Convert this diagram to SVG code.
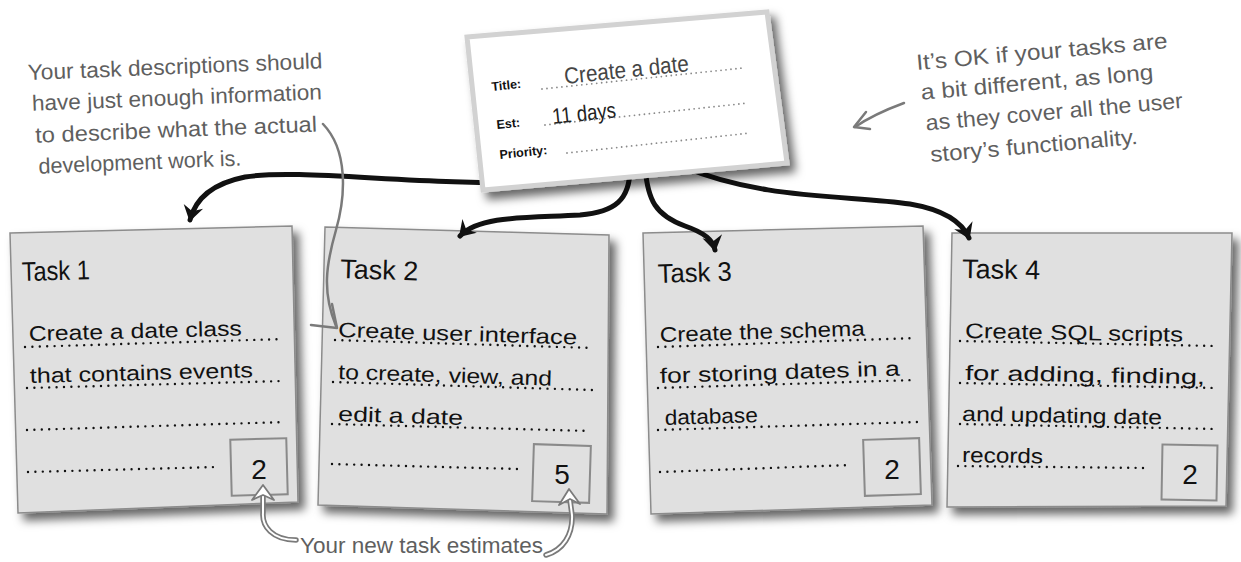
<svg xmlns="http://www.w3.org/2000/svg" width="1241" height="562" viewBox="0 0 1241 562">
<defs>
  <filter id="shadow" x="-10%" y="-10%" width="125%" height="130%">
    <feDropShadow dx="6" dy="7" stdDeviation="5" flood-color="#000" flood-opacity="0.6"/>
  </filter>
  <marker id="blackhead" viewBox="-16 -11 18 22" refX="0" refY="0" markerWidth="18" markerHeight="22" markerUnits="userSpaceOnUse" orient="auto">
    <path d="M1.5,0 L-14,-10 L-9,0 L-14,10 Z" fill="#111"/>
  </marker>
</defs>
<style>
  .hand { font-family: "Liberation Sans", "DejaVu Sans", sans-serif; }
  .note { fill: #5f5f5f; font-size: 22px; }
  .task-title { fill: #111; font-size: 27px; }
  .task-text { fill: #111; font-size: 21px; }
  .num { fill: #111; font-size: 28px; text-anchor: middle; }
  .card { fill: #e0e0e0; stroke: #8c8c8c; stroke-width: 1.5; }
  .box { fill: none; stroke: #8a8a8a; stroke-width: 2; }
  .dots { stroke: #111; stroke-width: 2.4; stroke-linecap: round; stroke-dasharray: 0 7.4; fill: none; }
  .sdots { stroke: #8a8a8a; stroke-width: 1.8; stroke-linecap: round; stroke-dasharray: 0 5; fill: none; }
  .label { font-family: "Liberation Sans", sans-serif; font-weight: bold; font-size: 12.5px; fill: #111; }
  .conn { fill: none; stroke: #111; stroke-width: 5; stroke-linecap: round; }
  .gray { fill: none; stroke: #7a7a7a; stroke-width: 2.5; stroke-linecap: round; stroke-linejoin: round; }
</style>
<rect width="1241" height="562" fill="#ffffff"/>

<g id="task1">
  <polygon class="card" points="10,233 292,226 298,502 18,513" filter="url(#shadow)"/>
  <text class="hand task-title" x="22" y="281" textLength="68" lengthAdjust="spacingAndGlyphs" transform="rotate(-1.5 22 281)">Task 1</text>
  <text class="hand task-text" x="29" y="341" textLength="213" lengthAdjust="spacingAndGlyphs" transform="rotate(-1.5 29 341)">Create a date class</text>
  <line class="dots" x1="25" y1="347" x2="283" y2="339"/>
  <text class="hand task-text" x="30" y="383" textLength="223" lengthAdjust="spacingAndGlyphs" transform="rotate(-1.5 30 383)">that contains events</text>
  <line class="dots" x1="27" y1="388" x2="283" y2="381"/>
  <line class="dots" x1="27" y1="430" x2="285" y2="422"/>
  <line class="dots" x1="28" y1="472" x2="217" y2="467"/>
  <rect class="box" x="231" y="439" width="56" height="56" transform="rotate(-1.5 259 467)"/>
  <text class="hand num" x="259" y="479">2</text>
</g>

<g id="task2">
  <polygon class="card" points="325,227 609,235 607,514 318,505" filter="url(#shadow)"/>
  <text class="hand task-title" x="340" y="278" textLength="78" lengthAdjust="spacingAndGlyphs" transform="rotate(1.8 340 278)">Task 2</text>
  <text class="hand task-text" x="338" y="337" textLength="239" lengthAdjust="spacingAndGlyphs" transform="rotate(1.8 338 337)">Create user interface</text>
  <line class="dots" x1="335" y1="340" x2="593" y2="348"/>
  <text class="hand task-text" x="338" y="379" textLength="214" lengthAdjust="spacingAndGlyphs" transform="rotate(1.8 338 379)">to create, view, and</text>
  <line class="dots" x1="333" y1="382" x2="592" y2="390"/>
  <text class="hand task-text" x="338" y="421" textLength="125" lengthAdjust="spacingAndGlyphs" transform="rotate(1.8 338 421)">edit a date</text>
  <line class="dots" x1="332" y1="424" x2="590" y2="431"/>
  <line class="dots" x1="332" y1="464" x2="518" y2="469"/>
  <rect class="box" x="533" y="445" width="57" height="57" transform="rotate(1.8 561 473)"/>
  <text class="hand num" x="562" y="484">5</text>
</g>

<g id="task3">
  <polygon class="card" points="643,233 923,226 932,505 651,514" filter="url(#shadow)"/>
  <text class="hand task-title" x="658" y="283" textLength="74" lengthAdjust="spacingAndGlyphs" transform="rotate(-1.8 658 283)">Task 3</text>
  <text class="hand task-text" x="660" y="342" textLength="205" lengthAdjust="spacingAndGlyphs" transform="rotate(-1.8 660 342)">Create the schema</text>
  <line class="dots" x1="658" y1="347" x2="915" y2="338"/>
  <text class="hand task-text" x="660" y="383" textLength="240" lengthAdjust="spacingAndGlyphs" transform="rotate(-1.8 660 383)">for storing dates in a</text>
  <line class="dots" x1="658" y1="388" x2="915" y2="380"/>
  <text class="hand task-text" x="665" y="425" textLength="93" lengthAdjust="spacingAndGlyphs" transform="rotate(-1.8 665 425)">database</text>
  <line class="dots" x1="658" y1="430" x2="917" y2="422"/>
  <line class="dots" x1="660" y1="472" x2="850" y2="465"/>
  <rect class="box" x="864" y="439" width="56" height="56" transform="rotate(-1.8 892 467)"/>
  <text class="hand num" x="892" y="479">2</text>
</g>

<g id="task4">
  <polygon class="card" points="952,233 1232,233 1226,506 947,507" filter="url(#shadow)"/>
  <text class="hand task-title" x="962" y="278" textLength="78" lengthAdjust="spacingAndGlyphs" transform="rotate(1 962 278)">Task 4</text>
  <text class="hand task-text" x="965" y="338" textLength="218" lengthAdjust="spacingAndGlyphs" transform="rotate(1 965 338)">Create SQL scripts</text>
  <line class="dots" x1="960" y1="341" x2="1218" y2="346"/>
  <text class="hand task-text" x="965" y="380" textLength="240" lengthAdjust="spacingAndGlyphs" transform="rotate(1 965 380)">for adding, finding,</text>
  <line class="dots" x1="960" y1="383" x2="1218" y2="388"/>
  <text class="hand task-text" x="962" y="421" textLength="200" lengthAdjust="spacingAndGlyphs" transform="rotate(1 962 421)">and updating date</text>
  <line class="dots" x1="960" y1="424" x2="1218" y2="429"/>
  <text class="hand task-text" x="962" y="462" textLength="81" lengthAdjust="spacingAndGlyphs" transform="rotate(1 962 462)">records</text>
  <line class="dots" x1="958" y1="466" x2="1148" y2="468"/>
  <rect class="box" x="1162" y="445" width="55" height="55" transform="rotate(1 1189 472)"/>
  <text class="hand num" x="1190" y="484">2</text>
</g>

<g id="connectors">
  <path class="conn" d="M540,182 C420,186 300,168 245,177 C210,184 195,200 190,220" marker-end="url(#blackhead)"/>
  <path class="conn" d="M630,168 C630,200 615,212 580,215 C530,218 480,215 460,236" marker-end="url(#blackhead)"/>
  <path class="conn" d="M645,168 C648,200 655,215 685,226 C705,233 713,240 715,250" marker-end="url(#blackhead)"/>
  <path class="conn" d="M682,166 C760,200 850,195 910,204 C945,210 962,222 969,238" marker-end="url(#blackhead)"/>
</g>

<g id="story">
  <polygon points="467,37 767,12 787,163 483,190" fill="#ffffff" stroke="#d2d2d2" stroke-width="5" filter="url(#shadow)"/>
  <text class="label" x="492" y="91" transform="rotate(-6 492 91)">Title:</text>
  <line class="sdots" x1="542" y1="89" x2="743" y2="68"/>
  <text class="hand" x="565" y="84" font-size="23" fill="#454545" textLength="125" lengthAdjust="spacingAndGlyphs" transform="rotate(-6 565 84)">Create a date</text>
  <text class="label" x="497" y="129" transform="rotate(-6 497 129)">Est:</text>
  <line class="sdots" x1="545" y1="125" x2="748" y2="103"/>
  <text class="hand" x="553" y="124" font-size="22" fill="#222" textLength="64" lengthAdjust="spacingAndGlyphs" transform="rotate(-6 553 124)">11 days</text>
  <text class="label" x="500" y="159" transform="rotate(-6 500 159)">Priority:</text>
  <line class="sdots" x1="567" y1="153" x2="750" y2="133"/>
</g>

<g id="note-descriptions">
  <g transform="rotate(-2.3 28 80)">
    <text class="hand note" x="28" y="80" textLength="295" lengthAdjust="spacingAndGlyphs">Your task descriptions should</text>
    <text class="hand note" x="31" y="111" textLength="290" lengthAdjust="spacingAndGlyphs">have just enough information</text>
    <text class="hand note" x="33" y="143" textLength="282" lengthAdjust="spacingAndGlyphs">to describe what the actual</text>
    <text class="hand note" x="35" y="174" textLength="203" lengthAdjust="spacingAndGlyphs">development work is.</text>
  </g>
  <path class="gray" d="M323,124 C348,150 346,195 336,230 C326,265 322,292 336,326"/>
  <path class="gray" d="M332,304 L337,328 L311,325"/>
</g>

<g id="note-different">
  <g transform="rotate(-5 917 70)">
    <text class="hand note" x="917" y="70" textLength="252" lengthAdjust="spacingAndGlyphs">It’s OK if your tasks are</text>
    <text class="hand note" x="919" y="100" textLength="233" lengthAdjust="spacingAndGlyphs">a bit different, as long</text>
    <text class="hand note" x="921" y="131" textLength="258" lengthAdjust="spacingAndGlyphs">as they cover all the user</text>
    <text class="hand note" x="923" y="163" textLength="208" lengthAdjust="spacingAndGlyphs">story’s functionality.</text>
  </g>
  <path class="gray" d="M904,103 C885,110 868,118 855,127"/>
  <path class="gray" d="M866,112 L854,127 L870,129"/>
</g>

<g id="note-estimates">
  <text class="hand note" x="300" y="553" textLength="243" lengthAdjust="spacingAndGlyphs">Your new task estimates</text>
  <path d="M296,540 C272,540 262,526 263,513 L263,496" fill="none" stroke="#7a7a7a" stroke-width="5.5" stroke-linecap="round"/>
  <path d="M296,540 C272,540 262,526 263,513 L263,496" fill="none" stroke="#ffffff" stroke-width="2" stroke-linecap="round"/>
  <polygon points="263,485 274,500 263,495 252,500" fill="#ffffff" stroke="#7a7a7a" stroke-width="1.8" stroke-linejoin="round"/>
  <path d="M546,555 C563,550 573,535 572,515 L570,500" fill="none" stroke="#7a7a7a" stroke-width="5.5" stroke-linecap="round"/>
  <path d="M546,555 C563,550 573,535 572,515 L570,500" fill="none" stroke="#ffffff" stroke-width="2" stroke-linecap="round"/>
  <polygon points="569,489 580,504 570,499 559,505" fill="#ffffff" stroke="#7a7a7a" stroke-width="1.8" stroke-linejoin="round"/>
</g>
</svg>
